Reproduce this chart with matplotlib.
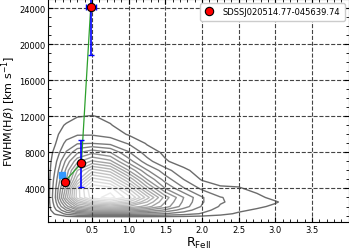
import numpy as np
import matplotlib
matplotlib.use("Agg")
import matplotlib.pyplot as plt
from matplotlib.ticker import AutoMinorLocator

# ---------------------------------------------------------------------------
# Data
# ---------------------------------------------------------------------------

# Population density, given as "number of contour levels enclosing the node"
grid_x = [-0.1, 0.0, 0.15, 0.3, 0.5, 0.75, 1.0, 1.25, 1.5, 1.75, 2.0, 2.25, 2.5, 2.75, 3.0, 3.25]
grid_y = [0, 800, 1200, 1600, 2000, 2500, 3000, 4000, 5000, 6000, 7000,
          8000, 9000, 10000, 11000, 12000, 13000]
density = [
    [0, 0, 0, 0, 0, 0, 0, 0, 0, 0, 0, 0, 0, 0, 0, 0],
    [0, 0, 0, 0, 0, 0, 0, 0, 0, 0, 0, 0, 0, 0, 0, 0],
    [0, 0.6, 1.8, 2.6, 3.0, 3.0, 3.0, 2.8, 2.5, 2.0, 1.4, 0.8, 0.35, 0.1, 0, 0],
    [0, 1.3, 3.5, 5.5, 6.5, 6.5, 6.3, 5.5, 4.3, 3.0, 1.9, 1.1, 0.7, 0.35, 0.05, 0],
    [0, 1.8, 5.0, 8.0, 9.5, 10.0, 9.5, 8.0, 6.0, 4.0, 2.4, 1.4, 1.05, 0.7, 0.3, 0],
    [0, 2.2, 6.5, 10.5, 13.0, 14.0, 12.5, 9.5, 6.5, 4.3, 2.6, 1.6, 1.2, 0.9, 0.6, 0],
    [0, 2.5, 8.0, 13.0, 16.0, 17.0, 15.0, 11.0, 7.0, 4.5, 2.6, 1.55, 1.2, 0.75, 0.2, 0],
    [0, 2.3, 7.0, 13.0, 16.5, 16.0, 12.5, 8.0, 4.5, 2.6, 1.3, 0.7, 0.6, 0.2, 0, 0],
    [0, 2.0, 5.5, 10.0, 14.0, 13.0, 9.5, 5.5, 3.0, 1.5, 0.4, 0, 0, 0, 0, 0],
    [0, 1.6, 4.8, 8.5, 11.0, 10.0, 6.5, 3.6, 1.9, 0.7, 0.1, 0, 0, 0, 0, 0],
    [0, 1.2, 3.8, 6.2, 7.7, 6.8, 4.0, 1.9, 0.6, 0.1, 0, 0, 0, 0, 0, 0],
    [0, 0.8, 2.6, 4.3, 5.2, 4.5, 2.6, 1.0, 0.3, 0, 0, 0, 0, 0, 0, 0],
    [0, 0.45, 1.8, 2.4, 2.5, 2.2, 1.4, 0.4, 0, 0, 0, 0, 0, 0, 0, 0],
    [0, 0.3, 1.0, 1.4, 1.4, 1.1, 0.4, 0.1, 0, 0, 0, 0, 0, 0, 0, 0],
    [0, 0, 0.65, 1.0, 1.15, 0.55, 0.1, 0, 0, 0, 0, 0, 0, 0, 0, 0],
    [0, 0, 0, 0.45, 0.55, 0.3, 0, 0, 0, 0, 0, 0, 0, 0, 0, 0],
    [0, 0, 0, 0, 0, 0, 0, 0, 0, 0, 0, 0, 0, 0, 0, 0],
]
contour_levels = [0.5 + i for i in range(17)]

# The source, three epochs (R_FeII, FWHM Hbeta)
src_name = "SDSSJ020514.77-045639.74"
src_r = [0.128, 0.355, 0.483]
src_fwhm = [4770, 6790, 24130]
src_rerr = [0.0, 0.0, 0.065]
src_fwhm_err = [0, 2630, 5330]

# companion marker (light blue)
comp_r = [0.09]
comp_fwhm = [5500]

xticks = [0.5, 1.0, 1.5, 2.0, 2.5, 3.0, 3.5]
yticks = [4000, 8000, 12000, 16000, 20000, 24000]

# ---------------------------------------------------------------------------
# Plot
# ---------------------------------------------------------------------------

fig = plt.figure(figsize=(3.49, 2.51), dpi=100)
ax = fig.add_axes([48 / 349, 27.7 / 251, 300.7 / 349, 223.3 / 251])

gx, gy = np.meshgrid(grid_x, grid_y)
cols = plt.cm.gray(np.linspace(0.42, 0.92, len(contour_levels)))
ax.contour(gx, gy, np.array(density), levels=contour_levels,
           colors=cols, linewidths=1.0, zorder=1)

ax.plot(src_r, src_fwhm, color="#2ca02c", lw=0.9, zorder=4)
ax.plot(comp_r, comp_fwhm, marker="s", ms=4, color="#3399ff", ls="none", zorder=4)
ax.errorbar(src_r, src_fwhm, xerr=src_rerr, yerr=src_fwhm_err, fmt="none",
            ecolor="blue", elinewidth=1.2, capsize=2, capthick=1.0, zorder=5)
ax.plot(src_r, src_fwhm, marker="o", ms=6, ls="none", mfc="red", mec="black",
        mew=0.8, label=src_name, zorder=6)

ax.set_xlim(-0.1, 4.0)
ax.set_ylim(250, 25000)
ax.set_xticks(xticks)
ax.set_yticks(yticks)
ax.xaxis.set_minor_locator(AutoMinorLocator())
ax.yaxis.set_minor_locator(AutoMinorLocator())
ax.tick_params(which="both", direction="in", top=True, right=True, labelsize=6)
ax.tick_params(which="major", length=3.5, pad=2)
ax.tick_params(which="minor", length=2)

ax.set_axisbelow(False)
ax.grid(True, which="major", ls="--", color="#444444", lw=0.8)

ax.set_xlabel(r"R$_{\rm FeII}$", fontsize=9)
ax.set_ylabel(r"FWHM(H$\beta$) [km s$^{-1}$]", fontsize=8)
ax.xaxis.set_label_coords(0.5, -0.055)
ax.yaxis.set_label_coords(-0.1, 0.5)

ax.legend(loc="upper right", fontsize=6, numpoints=1, handlelength=1.2,
          handletextpad=1.0, borderpad=0.5, framealpha=1.0)

fig.savefig("out.png", dpi=100)
